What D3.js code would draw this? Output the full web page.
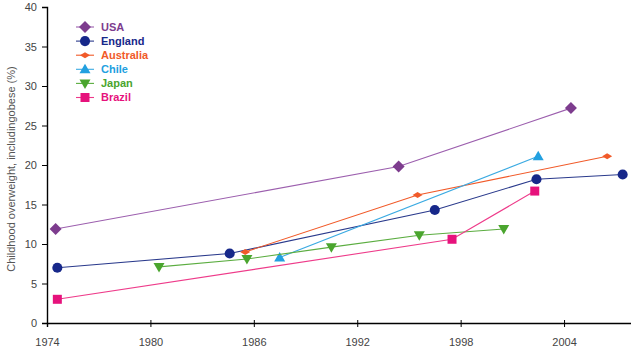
<!DOCTYPE html>
<html>
<head>
<meta charset="utf-8">
<script src="https://cdn.jsdelivr.net/npm/d3@7"></script>
<style>
  body { margin: 0; background: #fff; }
  svg { display: block; font-family: "Liberation Sans", Arial, sans-serif; }
</style>
</head>
<body>
<div id="chart"></div>
<script>
// data
const countries = ["USA", "England", "Australia", "Chile", "Japan", "Brazil"];
const usa = [[1974.5, 11.9], [1994.4, 19.8], [2004.4, 27.2]];
const england = [[1974.6, 7.0], [1984.6, 8.8], [1996.5, 14.3], [2002.4, 18.2], [2007.4, 18.8]];
const australia = [[1985.5, 9.0], [1995.5, 16.2], [2006.5, 21.1]];
const chile = [[1987.5, 8.3], [2002.5, 21.1]];
const japan = [[1980.5, 7.1], [1985.6, 8.1], [1990.5, 9.6], [1995.6, 11.1], [2000.5, 11.9]];
const brazil = [[1974.6, 3.0], [1997.5, 10.6], [2002.3, 16.7]];
const xTicks = [1974, 1980, 1986, 1992, 1998, 2004];
const yTicks = [0, 5, 10, 15, 20, 25, 30, 35, 40];

const series = [
    { name: "USA", values: usa, color: "#7d3c8e", line: "#9c5fae", shape: "diamond" },
    { name: "England", values: england, color: "#17288a", line: "#2a3a8c", shape: "circle" },
    { name: "Australia", values: australia, color: "#f15a29", line: "#f15a29", shape: "flat" },
    { name: "Chile", values: chile, color: "#22a0e0", line: "#3aaae2", shape: "up" },
    { name: "Japan", values: japan, color: "#4aa52e", line: "#5bad40", shape: "down" },
    { name: "Brazil", values: brazil, color: "#e6127c", line: "#ee3b8a", shape: "square" },
];

const width = 631,
    height = 353,
    margin = { top: 7, right: -2, bottom: 30, left: 47 };

const svg = d3.select("#chart").append("svg")
    .attr("width", width)
    .attr("height", height);

const x = d3.scaleLinear()
    .domain([1974, 2008])
    .range([margin.left, width - margin.right]);
const y = d3.scaleLinear()
    .domain([0, 40])
    .range([height - margin.bottom, margin.top]);

// marker paths
function marker(shape) {
    switch (shape) {
        case "diamond": return "M0,-6L6,0L0,6L-6,0Z";
        case "circle": return d3.symbol(d3.symbolCircle, 80)();
        case "flat": return "M-5,0L0,-3L5,0L0,3Z";
        case "up": return "M0,-5.5L5.5,4L-5.5,4Z";
        case "down": return "M0,5.5L5.5,-4L-5.5,-4Z";
        case "square": return "M-4.5,-4.5H4.5V4.5H-4.5Z";
    }
}

// axes
const xAxis = svg.append("g")
    .attr("transform", `translate(0,${y(0)})`)
    .call(d3.axisBottom(x).tickValues(xTicks).tickFormat(d3.format("d")).tickSizeOuter(0).tickSize(4));
xAxis.select(".domain").attr("stroke", "#000").attr("stroke-width", 1.4);
xAxis.selectAll(".tick line").attr("stroke", "#000").attr("y1", -3).attr("y2", 4);
xAxis.selectAll(".tick text").attr("dy", "1.45em").attr("fill", "#444").style("font-size", "11px");

const yAxis = svg.append("g")
    .attr("transform", `translate(${x(1974)},0)`)
    .call(d3.axisLeft(y).tickValues(yTicks).tickSizeOuter(0).tickSize(5));
yAxis.select(".domain").attr("stroke", "#000").attr("stroke-width", 1.4);
yAxis.selectAll(".tick line").attr("stroke", "#000");
yAxis.selectAll(".tick text").attr("x", -10).attr("fill", "#444").style("font-size", "11px");

svg.append("text")
    .attr("transform", `translate(15,${(y(0) + y(40)) / 2 + 4}) rotate(-90)`)
    .attr("text-anchor", "middle")
    .attr("fill", "#555")
    .style("font-size", "11px")
    .text("Childhood overweight, includingobese (%)");

// lines and markers
const line = d3.line().x((d) => x(d[0])).y((d) => y(d[1]));
for (const s of series) {
    svg.append("path")
        .datum(s.values)
        .attr("fill", "none")
        .attr("stroke", s.line)
        .attr("stroke-width", 1.1)
        .attr("d", line);
    svg.append("g")
        .selectAll("path")
        .data(s.values)
        .join("path")
        .attr("d", marker(s.shape))
        .attr("transform", (d) => `translate(${x(d[0])},${y(d[1])})`)
        .attr("fill", s.color);
}

// legend
const legend = svg.append("g").attr("transform", "translate(76,27)");
series.forEach((s, i) => {
    const g = legend.append("g").attr("transform", `translate(0,${i * 14.1})`);
    g.append("line").attr("x1", 0).attr("x2", 18).attr("stroke", s.line).attr("stroke-width", 1.1);
    g.append("path").attr("d", marker(s.shape)).attr("transform", "translate(9,0)").attr("fill", s.color);
    g.append("text")
        .attr("x", 25)
        .attr("dy", "0.35em")
        .attr("fill", s.color)
        .style("font-size", "11px")
        .style("font-weight", "bold")
        .text(countries[i]);
});
</script>
</body>
</html>
